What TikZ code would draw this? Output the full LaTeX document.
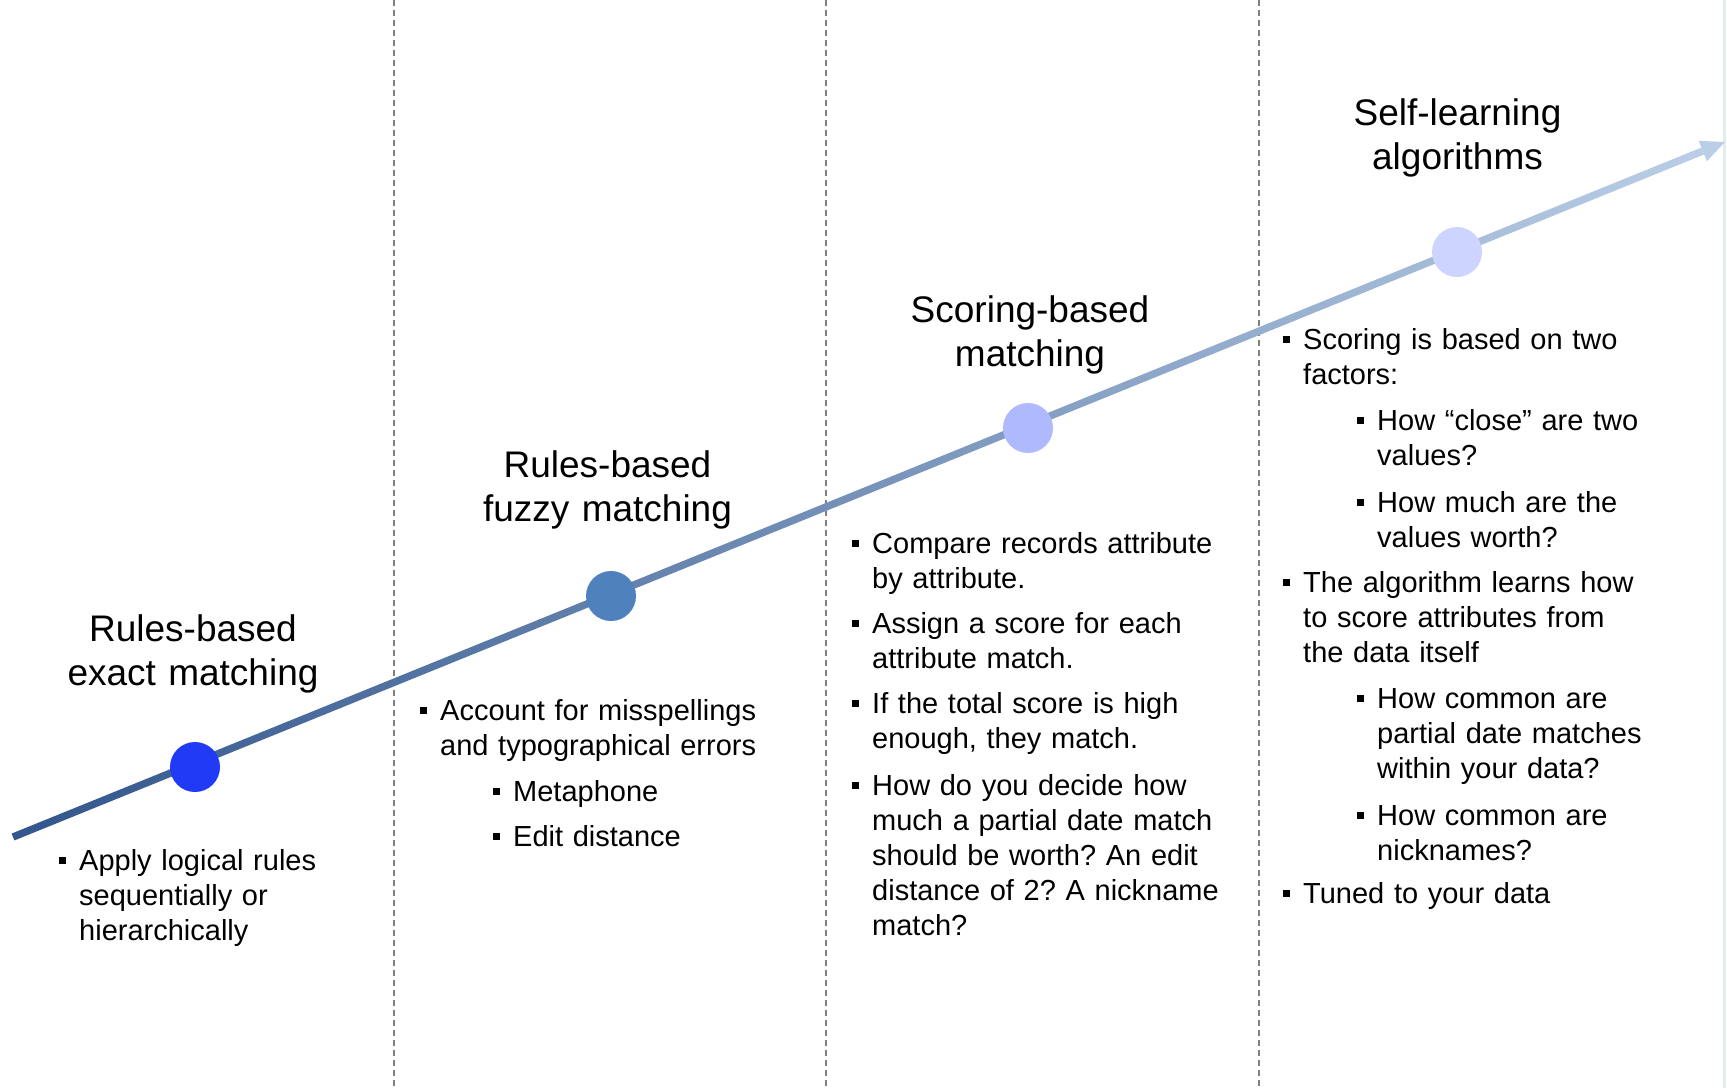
\documentclass[tikz,border=0pt]{standalone}
\usepackage{fontspec}
\setmainfont{Liberation Sans}
\usetikzlibrary{calc}
\frenchspacing

\definecolor{lineA}{RGB}{50,86,140}
\definecolor{lineB}{RGB}{186,206,230}
\definecolor{dotA}{RGB}{32,58,246}
\definecolor{dotB}{RGB}{79,129,189}
\definecolor{dotC}{RGB}{175,186,254}
\definecolor{dotD}{RGB}{204,212,255}
\definecolor{dashgray}{RGB}{128,128,128}
\definecolor{edgetint}{RGB}{226,238,238}

% bullet item: name, text x, first baseline y (measured downwards), text
\newcommand{\bitem}[4]{%
  \node[bsq] (#1sq) at ({#2-17},{10-#3}) {};
  \node[body] (#1) at (#2,{-#3}) {#4};
}

\begin{document}
\begin{tikzpicture}[x=1pt,y=1pt,
  title/.style={font={\fontsize{37}{44.5}\selectfont}, align=center,
    text width=420pt, inner sep=0pt, anchor=base},
  body/.style={font={\fontsize{29}{35}\selectfont}, align=left,
    text width=420pt, inner sep=0pt, anchor=base west},
  bsq/.style={rectangle, fill=black, minimum size=7pt, inner sep=0pt},
  divider/.style={draw=dashgray, line width=1.6pt, dash pattern=on 6pt off 4pt},
  dot/.style={circle, minimum size=50pt, inner sep=0pt}]

\useasboundingbox (0,0) rectangle (1727,-1088);

% column dividers
\foreach \i/\x in {1/394,2/826,3/1259}{
  \coordinate (d\i t) at (\x,0);
  \coordinate (d\i b) at (\x,-1088);
  \draw[divider] (d\i t) -- (d\i b);
}
\coordinate (et) at (1724.5,0);
\coordinate (eb) at (1724.5,-1088);
\draw[edgetint, line width=3pt] (et) -- (eb);

% rising timeline arrow with colour gradient
\coordinate (s) at (13,-837);
\coordinate (t) at (1725,-142);
\coordinate (hb) at ($(t)!24pt!(s)$);
\shade[left color=lineA, right color=lineB]
  ($(s)!3.7pt!90:(t)$) -- ($(s)!3.7pt!-90:(t)$) --
  ($(hb)!3.7pt!90:(s)$) -- ($(hb)!3.7pt!-90:(s)$) -- cycle;
\fill[lineB] ($(hb)!11pt!90:(s)$) -- (t) -- ($(hb)!11pt!-90:(s)$) -- cycle;

% stage markers
\node[dot, fill=dotA] (m1) at (195,-767) {};
\node[dot, fill=dotB] (m2) at (611,-596) {};
\node[dot, fill=dotC] (m3) at (1028,-428) {};
\node[dot, fill=dotD] (m4) at (1457,-252) {};

% stage titles
\node[title] (t1) at (193,-641) {Rules-based\\exact matching};
\node[title] (t2) at (607.5,-477) {Rules-based\\fuzzy matching};
\node[title] (t3) at (1030,-322) {Scoring-based\\matching};
\node[title] (t4) at (1457.5,-125) {Self-learning\\algorithms};

% column 1
\bitem{a1}{79}{870}{Apply logical rules\\sequentially or\\hierarchically}

% column 2
\bitem{b1}{440}{720}{Account for misspellings\\and typographical errors}
\bitem{b2}{513}{801}{Metaphone}
\bitem{b3}{513}{846}{Edit distance}

% column 3
\bitem{c1}{872}{553}{Compare records attribute\\by attribute.}
\bitem{c2}{872}{633}{Assign a score for each\\attribute match.}
\bitem{c3}{872}{713}{If the total score is high\\enough, they match.}
\bitem{c4}{872}{795}{How do you decide how\\much a partial date match\\should be worth? An edit\\distance of 2? A nickname\\match?}

% column 4
\bitem{e1}{1303}{349}{Scoring is based on two\\factors:}
\bitem{e2}{1377}{430}{How “close” are two\\values?}
\bitem{e3}{1377}{512}{How much are the\\values worth?}
\bitem{e4}{1303}{592}{The algorithm learns how\\to score attributes from\\the data itself}
\bitem{e5}{1377}{708}{How common are\\partial date matches\\within your data?}
\bitem{e6}{1377}{825}{How common are\\nicknames?}
\bitem{e7}{1303}{903}{Tuned to your data}

\end{tikzpicture}
\end{document}
